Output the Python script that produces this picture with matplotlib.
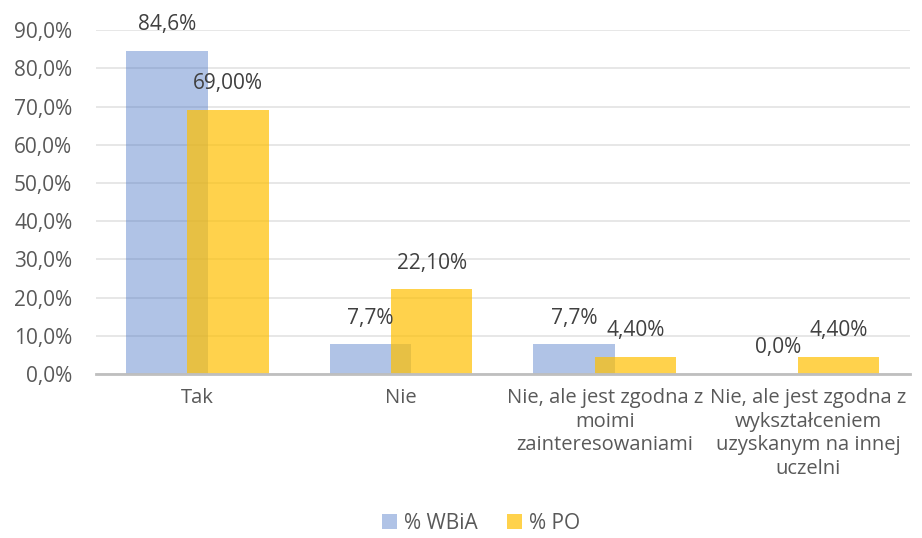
import numpy as np
import matplotlib
matplotlib.use('Agg')
from matplotlib import pyplot as plt

plt.rcParams['font.family'] = ['Open Sans', 'DejaVu Sans']

categories = ['Tak',
              'Nie',
              'Nie, ale jest zgodna z\nmoimi\nzainteresowaniami',
              'Nie, ale jest zgodna z\nwykształceniem\nuzyskanym na innej\nuczelni']
wbia = [84.6, 7.7, 7.7, 0.0]
po = [69.0, 22.1, 4.4, 4.4]
wbia_labels = ['84,6%', '7,7%', '7,7%', '0,0%']
po_labels = ['69,00%', '22,10%', '4,40%', '4,40%']
yticks = [0, 10, 20, 30, 40, 50, 60, 70, 80, 90]

text_col = '#595959'

fig = plt.figure(figsize=(9.22, 5.38), dpi=100)
ax = fig.add_axes([0.104, 0.305, 0.883, 0.639])

x = np.arange(len(categories))
w = 0.4
b1 = ax.bar(x - 0.15, wbia, w, color='#4472C4', alpha=0.42, zorder=2,
            label='% WBiA', linewidth=0)
b2 = ax.bar(x + 0.15, po, w, color='#FFC000', alpha=0.7, zorder=3,
            label='% PO', linewidth=0)

# data labels above the bars
for xi, v, lab in zip(x - 0.15, wbia, wbia_labels):
    ax.annotate(lab, (xi, v), xytext=(0, 19), textcoords='offset points',
                ha='center', va='center', fontsize=15, color='#404040')
for xi, v, lab in zip(x + 0.15, po, po_labels):
    ax.annotate(lab, (xi, v), xytext=(0, 19), textcoords='offset points',
                ha='center', va='center', fontsize=15, color='#404040')

ax.set_xlim(-0.5, len(categories) - 0.5)
ax.set_ylim(0, 90)
ax.set_yticks(yticks)
ax.set_yticklabels(['%d,0%%' % t for t in yticks], fontsize=15, color=text_col)
ax.set_xticks(x)
ax.set_xticklabels(categories, fontsize=14.5, color=text_col, linespacing=1.25,
                   va='top')
ax.tick_params(axis='both', length=0)
ax.tick_params(axis='x', pad=10)
ax.tick_params(axis='y', pad=17)

ax.yaxis.grid(True, color='#E3E3E3', linewidth=1.2, zorder=0)
ax.set_axisbelow(True)
for s in ['top', 'right', 'left']:
    ax.spines[s].set_visible(False)
ax.spines['bottom'].set_color('#BFBFBF')
ax.spines['bottom'].set_linewidth(2)
ax.spines['bottom'].set_zorder(4)

leg = fig.legend(handles=[b1, b2], loc='center', bbox_to_anchor=(0.522, 0.027),
                 ncol=2, frameon=False, fontsize=15, handlelength=0.7,
                 handleheight=0.7, handletextpad=0.35, columnspacing=1.4)
for t in leg.get_texts():
    t.set_color(text_col)

plt.savefig('out.png', dpi=100)
